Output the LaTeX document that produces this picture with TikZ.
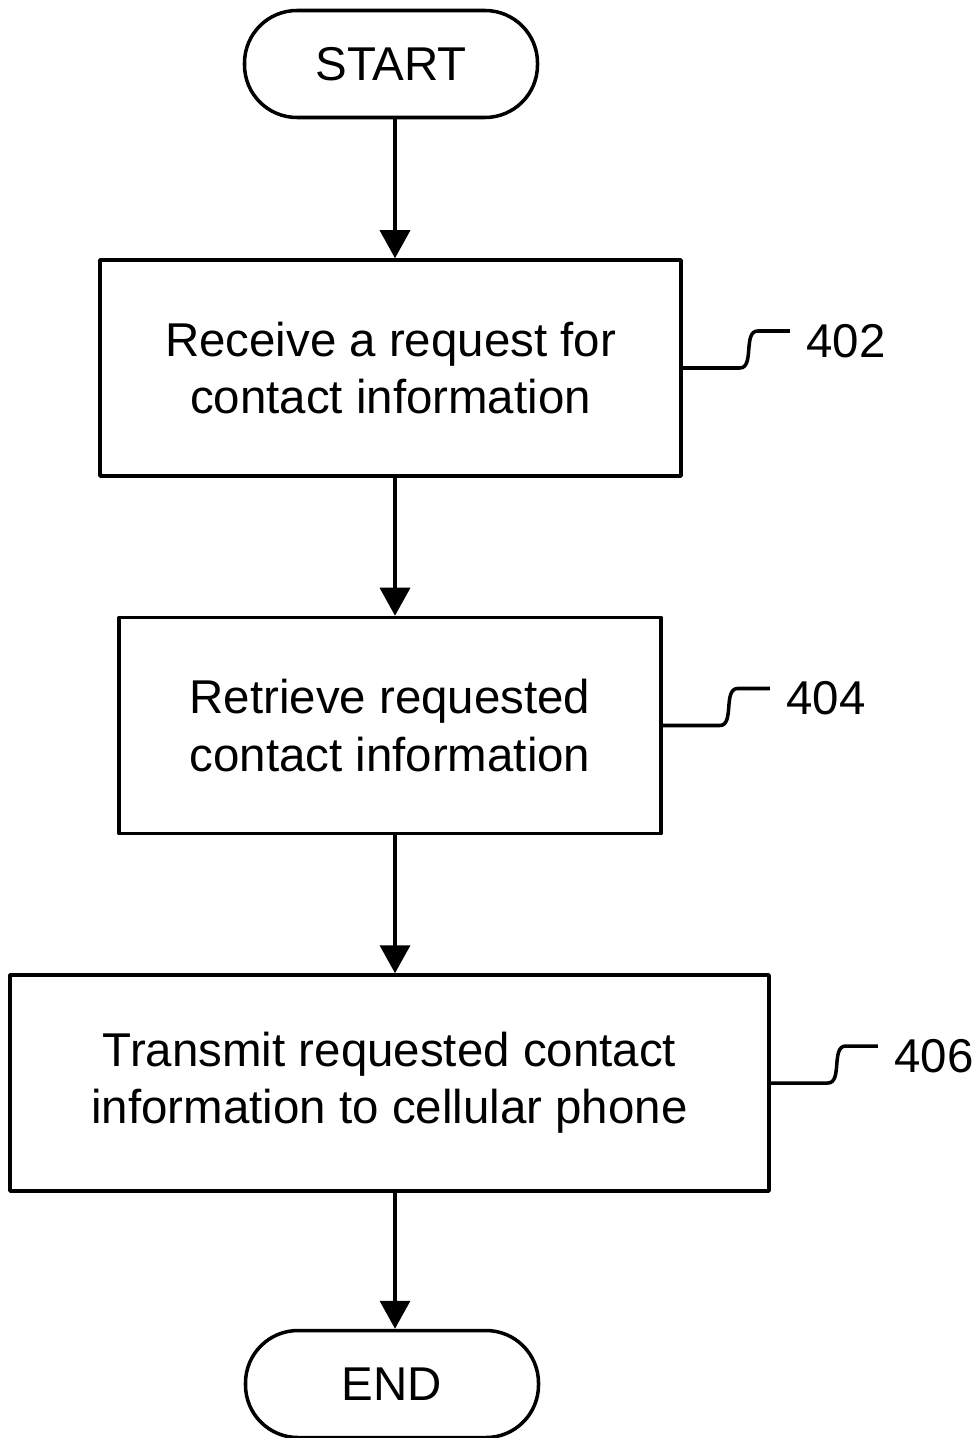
\documentclass[tikz,border=0pt]{standalone}
\usepackage{fontspec}
\setmainfont{Liberation Sans}
\usetikzlibrary{arrows.meta}

\begin{document}
\begin{tikzpicture}[font=\fontsize{27}{32.5}\selectfont, line join=round, line width=2pt,
	>={Triangle[length=0.56cm,width=0.6cm]},
	term/.style={draw, rounded corners=1.05cm, minimum width=5.86cm, minimum height=2.14cm},
	stepbox/.style={draw, align=center, minimum height=4.32cm}]
	\useasboundingbox (0,0) rectangle (19.58,-28.76);
	\path
	(7.9,0) coordinate (X)
	;
	\node[term] (start) at (7.82,-1.28) {START};
	\node[stepbox, minimum width=11.62cm] (s402) at (7.81,-7.36) {Receive a request for\\contact information};
	\node[stepbox, minimum width=10.84cm] (s404) at (7.80,-14.51) {Retrieve requested\\contact information};
	\node[stepbox, minimum width=15.18cm] (s406) at (7.79,-21.66) {Transmit requested contact\\information to cellular phone};
	\node[term] (end) at (7.84,-27.68) {END};
	\foreach \a/\b in {start/s402,s402/s404,s404/s406,s406/end}
		\draw[->] (\a.south -| X)--(\b.north -| X);
	\foreach \s/\t in {s402/402,s404/404,s406/406}
		\draw (\s.east)--++(1.14,0) .. controls +(0.3,0) and +(-0.3,0) .. ++(0.36,0.74)--++(0.64,0) node (l\t)[right=0.3cm, yshift=-0.2cm, inner sep=0]{\t};
\end{tikzpicture}
\end{document}
